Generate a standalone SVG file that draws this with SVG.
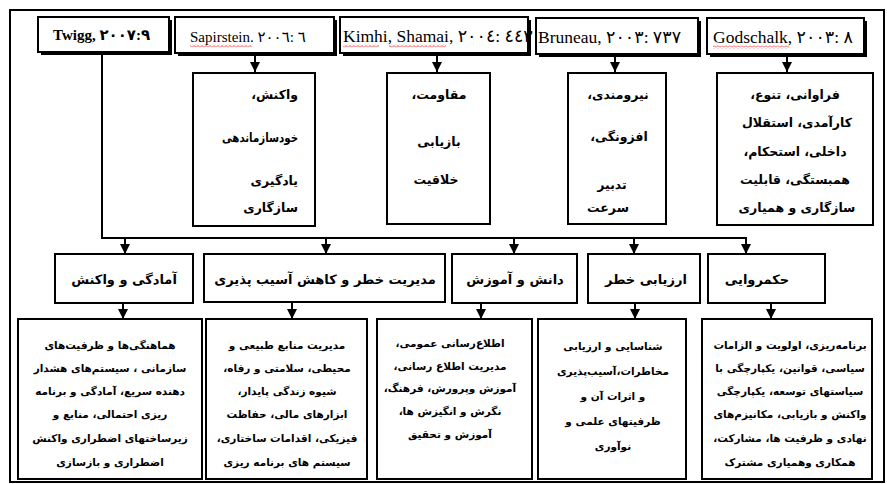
<svg xmlns="http://www.w3.org/2000/svg" width="887" height="484" viewBox="0 0 887 484">
<style>
.bg{fill:#fff}
.frame{fill:none;stroke:#000;stroke-width:2}
.box{fill:#fff;stroke:#000;stroke-width:2}
.shadow{fill:#000}
.conn{fill:none;stroke:#000;stroke-width:2}
.hd{font-family:"Liberation Serif","DejaVu Serif","DejaVu Sans",serif;fill:#000;direction:ltr;unicode-bidi:bidi-override}
.fa{font-family:"DejaVu Sans",sans-serif;font-weight:bold;fill:#000;direction:rtl;text-anchor:middle}
.s12{font-size:12.5px}
.s10{font-size:10.5px}
.s13{font-size:13px}
.r{text-anchor:start}
</style>
<defs>
<marker id="ah" viewBox="0 0 10 10" refX="10" refY="5" markerWidth="10" markerHeight="10" markerUnits="userSpaceOnUse" orient="auto">
<path d="M0,0 L10,5 L0,10 z" fill="#000"/>
</marker>
<pattern id="wave" patternUnits="userSpaceOnUse" width="4" height="3">
<path d="M0,2.5 L2,0.5 L4,2.5" fill="none" stroke="#e02020" stroke-width="0.8"/>
</pattern>
</defs>
<rect class="bg" x="0" y="0" width="887" height="484"/>
<rect class="frame" x="10" y="10" width="874" height="472"/>

<g id="connectors">
<path class="conn" d="M255,55 V72" marker-end="url(#ah)"/>
<path class="conn" d="M437,55 V72" marker-end="url(#ah)"/>
<path class="conn" d="M615,55 V72" marker-end="url(#ah)"/>
<path class="conn" d="M787,56 V72" marker-end="url(#ah)"/>
<path class="conn" d="M102,54 V238 H746"/>
<path class="conn" d="M125,238 V254" marker-end="url(#ah)"/>
<path class="conn" d="M326,238 V254" marker-end="url(#ah)"/>
<path class="conn" d="M514,238 V254" marker-end="url(#ah)"/>
<path class="conn" d="M634,238 V254" marker-end="url(#ah)"/>
<path class="conn" d="M746,237 V254" marker-end="url(#ah)"/>
<path class="conn" d="M123,303 V319" marker-end="url(#ah)"/>
<path class="conn" d="M292,303 V319" marker-end="url(#ah)"/>
<path class="conn" d="M481,303 V319" marker-end="url(#ah)"/>
<path class="conn" d="M635,303 V319" marker-end="url(#ah)"/>
<path class="conn" d="M771,303 V319" marker-end="url(#ah)"/>
</g>

<g id="h-twigg">
<rect class="shadow" x="41" y="20" width="131" height="35"/>
<rect class="box" x="38" y="17" width="131" height="35"/>
<text class="hd" x="53" y="40" font-size="15" font-weight="bold">Twigg, ٢٠٠٧:٩</text>
</g>
<g id="h-sapirstein">
<rect class="shadow" x="178" y="20" width="159" height="36"/>
<rect class="box" x="175" y="17" width="159" height="36"/>
<text class="hd" x="190" y="42" font-size="15">Sapirstein. ٢٠٠٦: ٦</text>
<rect x="190" y="44.5" width="62" height="3" fill="url(#wave)"/>
</g>
<g id="h-kimhi">
<rect class="shadow" x="343" y="20" width="188" height="36"/>
<rect class="box" x="340" y="17" width="188" height="36"/>
<text class="hd" x="343" y="42" font-size="17.5">Kimhi, Shamai, ٢٠٠٤: ٤٤٣</text>
<rect x="343" y="44.5" width="36" height="3" fill="url(#wave)"/>
<rect x="389" y="44.5" width="57" height="3" fill="url(#wave)"/>
</g>
<g id="h-bruneau">
<rect class="shadow" x="539" y="21" width="162" height="36"/>
<rect class="box" x="536" y="18" width="162" height="36"/>
<text class="hd" x="538" y="43" font-size="17.5">Bruneau, ٢٠٠٣: ٧٣٧</text>
</g>
<g id="h-godschalk">
<rect class="shadow" x="710" y="21" width="157" height="36"/>
<rect class="box" x="707" y="18" width="157" height="36"/>
<text class="hd" x="713" y="43" font-size="17.5">Godschalk, ٢٠٠٣: ٨</text>
<rect x="713" y="45.5" width="76" height="3" fill="url(#wave)"/>
</g>

<g id="m-sapirstein">
<rect class="box" x="193" y="73" width="122" height="153"/>
<text class="fa s12 r" x="298" y="99">واکنش،</text>
<text class="fa s12 r" x="298" y="142" textLength="76" lengthAdjust="spacingAndGlyphs">خودسازماندهی</text>
<text class="fa s12 r" x="298" y="185">یادگیری</text>
<text class="fa s12 r" x="298" y="212">سازگاری</text>
</g>
<g id="m-kimhi">
<rect class="box" x="387" y="73" width="103" height="151"/>
<text class="fa s12" x="439" y="99">مقاومت،</text>
<text class="fa s12" x="439" y="146">بازیابی</text>
<text class="fa s12" x="436" y="184">خلاقیت</text>
</g>
<g id="m-bruneau">
<rect class="box" x="568" y="73" width="98" height="151"/>
<text class="fa s12" x="618" y="99">نیرومندی،</text>
<text class="fa s12" x="619" y="141">افزونگی،</text>
<text class="fa s12" x="612" y="189">تدبیر</text>
<text class="fa s12" x="608" y="212">سرعت</text>
</g>
<g id="m-godschalk">
<rect class="box" x="717" y="73" width="156" height="152"/>
<text class="fa s12" x="795" y="99">فراوانی، تنوع،</text>
<text class="fa s12" x="797" y="127">کارآمدی، استقلال</text>
<text class="fa s12" x="795" y="156">داخلی،  استحکام،</text>
<text class="fa s12" x="795" y="184">همبستگی، قابلیت</text>
<text class="fa s12" x="797" y="212">سازگاری و همیاری</text>
</g>

<g id="c-amadegi">
<rect class="box" x="55" y="254" width="138" height="49"/>
<text class="fa s13" x="124" y="284">آمادگی و  واکنش</text>
</g>
<g id="c-modiriat">
<rect class="box" x="204" y="254" width="241" height="48"/>
<text class="fa s13" x="325" y="284">مدیریت خطر و کاهش آسیب پذیری</text>
</g>
<g id="c-danesh">
<rect class="box" x="452" y="254" width="125" height="49"/>
<text class="fa s13" x="515" y="284">دانش و آموزش</text>
</g>
<g id="c-arzyabi">
<rect class="box" x="588" y="254" width="112" height="49"/>
<text class="fa s13" x="646" y="284">ارزیابی خطر</text>
</g>
<g id="c-hokmravai">
<rect class="box" x="708" y="254" width="117" height="49"/>
<text class="fa s13" x="757" y="284">حکمروایی</text>
</g>

<g id="d-amadegi">
<rect class="box" x="18" y="319" width="184" height="160"/>
<text class="fa s10" x="110" y="349">هماهنگی‌ها و ظرفیت‌های</text>
<text class="fa s10" x="110" y="372">سازمانی ، سیستم‌های هشدار</text>
<text class="fa s10" x="110" y="395">دهنده سریع، آمادگی و برنامه</text>
<text class="fa s10" x="110" y="418">ریزی احتمالی، منابع و</text>
<text class="fa s10" x="110" y="442">زیرساختهای اضطراری  واکنش</text>
<text class="fa s10" x="110" y="466">اضطراری و بازسازی</text>
</g>
<g id="d-modiriat">
<rect class="box" x="206" y="319" width="161" height="160"/>
<text class="fa s10" x="287" y="349">مدیریت منابع طبیعی و</text>
<text class="fa s10" x="287" y="372">محیطی، سلامتی و رفاه،</text>
<text class="fa s10" x="287" y="395">شیوه زندگی پایدار،</text>
<text class="fa s10" x="287" y="418">ابزارهای مالی، حفاظت</text>
<text class="fa s10" x="287" y="442">فیزیکی، اقدامات ساختاری،</text>
<text class="fa s10" x="287" y="466">سیستم های برنامه ریزی</text>
</g>
<g id="d-danesh">
<rect class="box" x="377" y="319" width="155" height="160"/>
<text class="fa s10" x="450" y="347">اطلاع‌رسانی عمومی،</text>
<text class="fa s10" x="450" y="370">مدیریت اطلاع رسانی،</text>
<text class="fa s10" x="450" y="392">آموزش وپرورش، فرهنگ،</text>
<text class="fa s10" x="450" y="415">نگرش و انگیزش ها،</text>
<text class="fa s10" x="450" y="438">آموزش  و تحقیق</text>
</g>
<g id="d-arzyabi">
<rect class="box" x="538" y="319" width="148" height="160"/>
<text class="fa s10" x="613" y="350">شناسایی و ارزیابی</text>
<text class="fa s10" x="613" y="375">مخاطرات،آسیب‌پذیری</text>
<text class="fa s10" x="613" y="400">و اثرات آن و</text>
<text class="fa s10" x="613" y="425">ظرفیتهای علمی و</text>
<text class="fa s10" x="613" y="450">نوآوری</text>
</g>
<g id="d-hokmravai">
<rect class="box" x="702" y="319" width="170" height="160"/>
<text class="fa s10" x="790" y="349">برنامه‌ریزی، اولویت و الزامات</text>
<text class="fa s10" x="790" y="372">سیاسی، قوانین، یکپارچگی با</text>
<text class="fa s10" x="790" y="395">سیاستهای توسعه، یکپارچگی</text>
<text class="fa s10" x="790" y="418">واکنش و بازیابی، مکانیزم‌های</text>
<text class="fa s10" x="790" y="442">نهادی و ظرفیت ها، مشارکت،</text>
<text class="fa s10" x="790" y="466">همکاری وهمیاری مشترک</text>
</g>
</svg>
